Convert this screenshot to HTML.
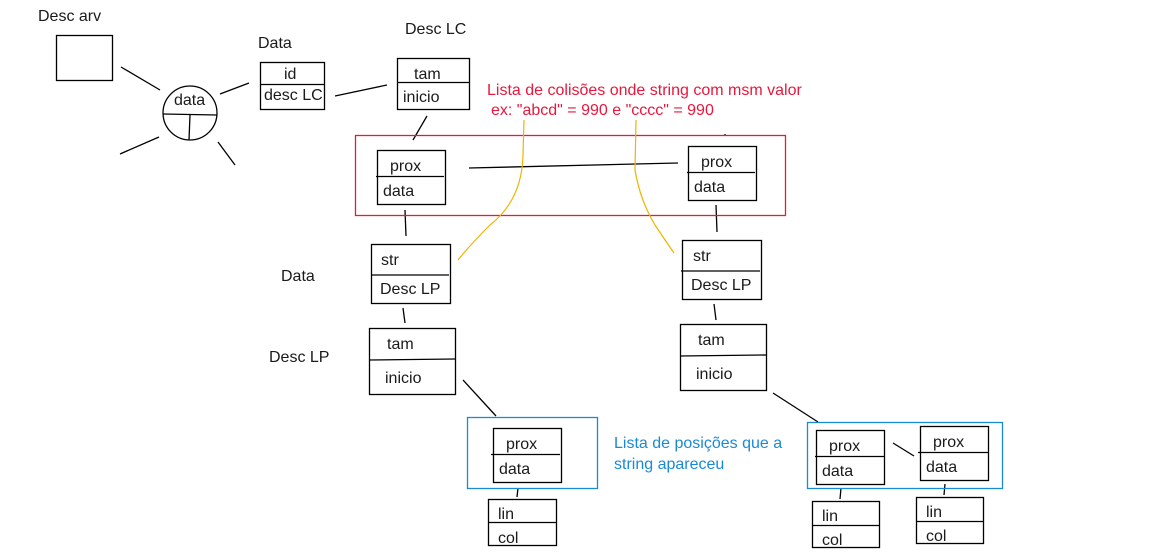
<!DOCTYPE html>
<html><head><meta charset="utf-8"><style>
html,body{margin:0;padding:0;background:#fff;width:1149px;height:552px;overflow:hidden}
svg{display:block}
text{font-family:"Liberation Sans",sans-serif;font-size:16px;fill:#1a1a1a}
</style></head><body>
<svg width="1149" height="552" viewBox="0 0 1149 552" xmlns="http://www.w3.org/2000/svg">
<g fill="none" stroke="#000" stroke-width="1.3">
<rect x="56.5" y="35.5" width="56" height="45"/>
<circle cx="190" cy="113" r="27"/>
<line x1="163" y1="114" x2="217" y2="115"/>
<line x1="190" y1="115" x2="189" y2="140"/>
<line x1="121" y1="67" x2="160" y2="90"/>
<line x1="220" y1="94" x2="249" y2="83"/>
<line x1="120" y1="154" x2="159" y2="137"/>
<line x1="218" y1="142" x2="235" y2="165"/>
<rect x="260.5" y="62.5" width="64" height="47"/><line x1="260" y1="84.5" x2="324" y2="84.5"/>
<line x1="335" y1="96" x2="387" y2="85"/>
<rect x="397.5" y="58.5" width="72" height="51"/><line x1="397" y1="82.5" x2="469" y2="82.5"/>
<line x1="427" y1="116" x2="413" y2="140"/>
<rect x="377.5" y="150.5" width="68" height="54"/><line x1="376" y1="176.5" x2="444" y2="176.5"/>
<line x1="469" y1="168" x2="678" y2="163"/>
<rect x="688.5" y="146.5" width="68" height="54"/><line x1="687" y1="172.5" x2="755" y2="172.5"/>
<line x1="725" y1="134" x2="725" y2="136"/>
<line x1="405" y1="210" x2="406" y2="236"/>
<line x1="716" y1="205" x2="717" y2="232"/>
<rect x="371.5" y="244.5" width="79" height="59"/><line x1="371" y1="275" x2="449" y2="275"/>
<rect x="682.5" y="240.5" width="79" height="59"/><line x1="681" y1="271" x2="760" y2="271"/>
<line x1="403" y1="308" x2="405" y2="323"/>
<line x1="714" y1="304" x2="716" y2="320"/>
<rect x="369.5" y="328.5" width="86" height="66"/><line x1="369" y1="360" x2="455" y2="359"/>
<rect x="680.5" y="324.5" width="86" height="66"/><line x1="680" y1="356" x2="766" y2="355"/>
<line x1="463" y1="380" x2="496" y2="416"/>
<line x1="773" y1="393" x2="818" y2="422"/>
<rect x="493.5" y="428.5" width="68" height="54"/><line x1="491" y1="454.5" x2="560" y2="454.5"/>
<line x1="518" y1="488" x2="517" y2="497"/>
<rect x="488.5" y="499.5" width="68" height="46"/><line x1="488" y1="522.5" x2="556" y2="522.5"/>
<rect x="816.5" y="430.5" width="68" height="54"/><line x1="815" y1="456.5" x2="884" y2="456.5"/>
<rect x="920.5" y="426.5" width="68" height="54"/><line x1="918" y1="452.5" x2="988" y2="452.5"/>
<line x1="893" y1="443" x2="914" y2="456"/>
<rect x="812.5" y="501.5" width="67" height="46"/><line x1="812" y1="525.5" x2="879" y2="525.5"/>
<rect x="916.5" y="497.5" width="67" height="46"/><line x1="916" y1="521.5" x2="983" y2="521.5"/>
<line x1="841" y1="488" x2="840" y2="499"/>
<line x1="945" y1="484" x2="944" y2="495"/>
</g>
<rect x="355.5" y="135.5" width="430" height="80" fill="none" stroke="#dc1e3c" stroke-width="1.3"/>
<rect x="467.5" y="417.5" width="130" height="71" fill="none" stroke="#1a8ad4" stroke-width="1.3"/>
<rect x="807.5" y="422.5" width="195" height="66" fill="none" stroke="#1a8ad4" stroke-width="1.3"/>
<g fill="none" stroke="#f0b400" stroke-width="1.2">
<path d="M524 120 L523 155 Q522 200 490 225 Q470 245 458 260"/>
<path d="M636 120 L635 170 Q640 200 655 225 Q665 240 674 253"/>
</g>
<text x="38" y="21">Desc arv</text>
<text x="174" y="105">data</text>
<text x="258" y="48">Data</text>
<text x="284" y="79">id</text>
<text x="264" y="100">desc LC</text>
<text x="405" y="34">Desc LC</text>
<text x="414" y="79">tam</text>
<text x="403" y="102">inicio</text>
<text x="487" y="95" style="fill:#e8173c">Lista de colisões onde string com msm valor</text>
<text x="491" y="115" style="fill:#e8173c">ex: "abcd" = 990 e "cccc" = 990</text>
<text x="390" y="171">prox</text>
<text x="383" y="196">data</text>
<text x="701" y="167">prox</text>
<text x="694" y="192">data</text>
<text x="281" y="281">Data</text>
<text x="381" y="265">str</text>
<text x="380" y="294">Desc LP</text>
<text x="693" y="261">str</text>
<text x="691" y="290">Desc LP</text>
<text x="269" y="362">Desc LP</text>
<text x="387" y="349">tam</text>
<text x="385" y="383">inicio</text>
<text x="698" y="345">tam</text>
<text x="696" y="379">inicio</text>
<text x="506" y="449">prox</text>
<text x="499" y="474">data</text>
<text x="614" y="448" style="fill:#1a8ad4">Lista de posições que a</text>
<text x="614" y="469" style="fill:#1a8ad4">string apareceu</text>
<text x="498" y="519">lin</text>
<text x="498" y="543">col</text>
<text x="829" y="451">prox</text>
<text x="822" y="476">data</text>
<text x="933" y="447">prox</text>
<text x="926" y="472">data</text>
<text x="822" y="521">lin</text>
<text x="822" y="545">col</text>
<text x="926" y="517">lin</text>
<text x="926" y="541">col</text>
</svg>
</body></html>
